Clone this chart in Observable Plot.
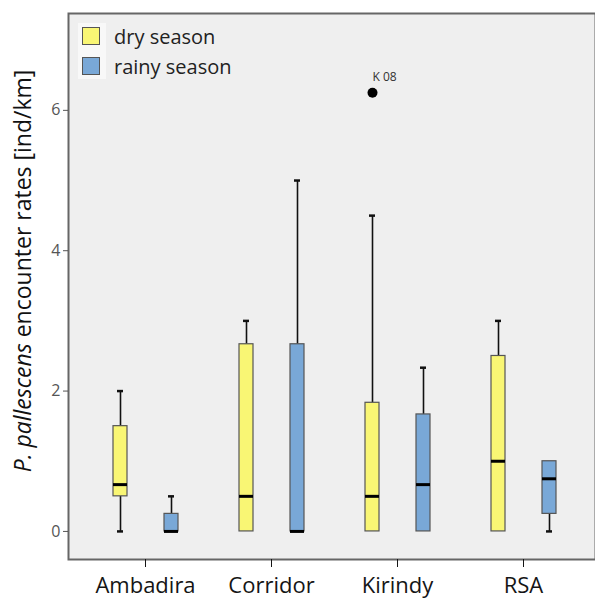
<!DOCTYPE html>
<html>
<head>
<meta charset="utf-8">
<script src="https://cdn.jsdelivr.net/npm/d3@7"></script>
<script src="https://cdn.jsdelivr.net/npm/@observablehq/plot@0.6"></script>
<style>
  body { margin: 0; background: #fff; }
  #wrap { position: relative; width: 595px; height: 601px; overflow: hidden; }
  .legend { position: absolute; left: 78px; top: 21px; font-family: "Open Sans", sans-serif; font-size: 20px; color: #222; }
  .legend .bg { position: absolute; left: 0; top: 2px; width: 28px; height: 56px; background: #f8f8f8; }
  .legend .item { position: relative; display: flex; align-items: center; height: 30px; }
  .legend .sw { width: 18px; height: 18px; border: 1px solid #555; margin-left: 4px; margin-right: 14px; box-sizing: border-box; }
</style>
</head>
<body>
<div id="wrap"></div>
<script>
const sites = ["Ambadira", "Corridor", "Kirindy", "RSA"];
const seasons = ["dry season", "rainy season"];
const seasonColors = ["#f9f674", "#79a8d7"];

// dry season box statistics
const dryLow = [0, 0, 0, 0];
const dryQ1 = [0.5, 0, 0, 0];
const dryMedian = [0.667, 0.5, 0.5, 1.0];
const dryQ3 = [1.5, 2.667, 1.833, 2.5];
const dryHigh = [2.0, 3.0, 4.5, 3.0];

// rainy season box statistics
const rainyLow = [0, 0, 0, 0];
const rainyQ1 = [0, 0, 0, 0.25];
const rainyMedian = [0, 0, 0.667, 0.75];
const rainyQ3 = [0.25, 2.667, 1.667, 1.0];
const rainyHigh = [0.5, 5.0, 2.333, 1.0];

// outliers
const outlierSite = ["Kirindy"];
const outlierValue = [6.25];
const outlierLabel = ["K 08"];

const yTicks = [0, 2, 4, 6];

const dry = sites.map((s, i) => ({site: s, lo: dryLow[i], q1: dryQ1[i], med: dryMedian[i], q3: dryQ3[i], hi: dryHigh[i]}));
const rainy = sites.map((s, i) => ({site: s, lo: rainyLow[i], q1: rainyQ1[i], med: rainyMedian[i], q3: rainyQ3[i], hi: rainyHigh[i]}));
const outliers = outlierSite.map((s, i) => ({site: s, value: outlierValue[i], label: outlierLabel[i]}));

function boxMarks(data, color, boxL, boxR, capL, capR, dx) {
  const upper = data.filter(d => d.hi > d.q3);
  const lower = data.filter(d => d.lo < d.q1);
  return [
    Plot.ruleX(upper, {x: "site", y1: "q3", y2: "hi", dx, stroke: "#111", strokeWidth: 1.6}),
    Plot.ruleX(lower, {x: "site", y1: "lo", y2: "q1", dx, stroke: "#111", strokeWidth: 1.6}),
    Plot.tickY(upper, {x: "site", y: "hi", insetLeft: capL, insetRight: capR, stroke: "#111", strokeWidth: 2.5}),
    Plot.tickY(lower, {x: "site", y: "lo", insetLeft: capL, insetRight: capR, stroke: "#111", strokeWidth: 2.5}),
    Plot.barY(data, {x: "site", y1: "q1", y2: "q3", fill: color, stroke: "#555", strokeWidth: 1.2, insetLeft: boxL, insetRight: boxR}),
    Plot.tickY(data, {x: "site", y: "med", insetLeft: boxL, insetRight: boxR, stroke: "#000", strokeWidth: 3})
  ];
}

const chart = Plot.plot({
  width: 595,
  height: 601,
  marginLeft: 68,
  marginRight: 0,
  marginTop: 13,
  marginBottom: 42,
  style: {fontFamily: "Open Sans, sans-serif", background: "transparent"},
  x: {type: "band", domain: sites, range: [82, 586], padding: 0, label: null},
  y: {domain: [-0.4, 7.38], label: null},
  marks: [
    Plot.frame({fill: "#efefef", stroke: "#666", strokeWidth: 2}),
    Plot.axisY({ticks: yTicks, tickSize: 5, tickPadding: 3, fontSize: 16, color: "#555", label: null, tickFormat: d => String(d)}),
    Plot.axisX({tickSize: 8, tickPadding: 10, fontSize: 22, color: "#151515", label: null}),
    ...boxMarks(dry, seasonColors[0], 31, 81, 35, 85, -25),
    ...boxMarks(rainy, seasonColors[1], 82, 30, 86, 34, 26),
    Plot.dot(outliers, {x: "site", y: "value", dx: -25, r: 5, fill: "#000", stroke: "none"}),
    Plot.text(outliers, {x: "site", y: "value", text: "label", dx: -25, dy: -16, textAnchor: "start", fontSize: 12, fill: "#333"})
  ]
});

const wrap = document.getElementById("wrap");
wrap.appendChild(chart);

// rotated y-axis title with italic species name
const svg = d3.select(chart);
const t = svg.append("text")
  .attr("transform", "translate(31,271) rotate(-90)")
  .attr("text-anchor", "middle")
  .attr("font-family", "Open Sans, sans-serif")
  .attr("font-size", 23)
  .attr("fill", "#111");
t.append("tspan").attr("font-style", "italic").text("P. pallescens");
t.append("tspan").text(" encounter rates [ind/km]");

// legend
const legend = document.createElement("div");
legend.className = "legend";
legend.innerHTML = '<div class="bg"></div>' + seasons.map((s, i) =>
  `<div class="item"><div class="sw" style="background:${seasonColors[i]}"></div><span>${s}</span></div>`).join("");
wrap.appendChild(legend);
</script>
</body>
</html>
